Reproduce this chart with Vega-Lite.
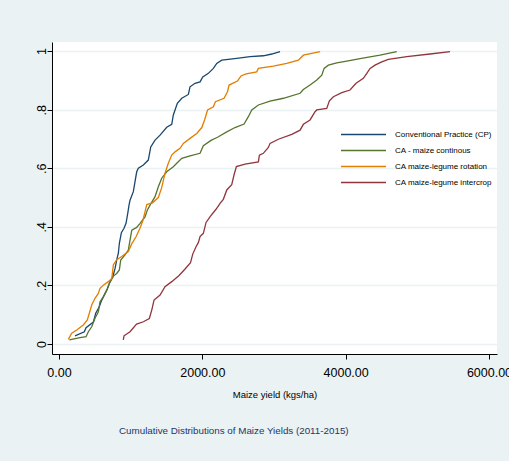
{
  "$schema": "https://vega.github.io/schema/vega-lite/v6.json",
  "width": 445,
  "height": 312,
  "autosize": {"type": "none"},
  "padding": {"left": 52, "top": 42, "right": 12, "bottom": 107},
  "background": "#eaf2f3",
  "config": {
    "view": {"fill": "white", "stroke": null},
    "font": "Liberation Sans"
  },
  "title": {
    "text": "Cumulative Distributions of Maize Yields (2011-2015)",
    "orient": "bottom",
    "anchor": "start",
    "dx": 84,
    "offset": 27,
    "fontSize": 9.8,
    "fontWeight": "normal",
    "color": "#24356a",
    "font": "Liberation Sans"
  },
  "data": {
    "values": [
      {"practice": "Conventional Practice (CP)", "yield": 223, "cum": 0.028},
      {"practice": "Conventional Practice (CP)", "yield": 353, "cum": 0.042},
      {"practice": "Conventional Practice (CP)", "yield": 377, "cum": 0.056},
      {"practice": "Conventional Practice (CP)", "yield": 479, "cum": 0.075},
      {"practice": "Conventional Practice (CP)", "yield": 512, "cum": 0.105},
      {"practice": "Conventional Practice (CP)", "yield": 558, "cum": 0.125},
      {"practice": "Conventional Practice (CP)", "yield": 596, "cum": 0.150},
      {"practice": "Conventional Practice (CP)", "yield": 674, "cum": 0.188},
      {"practice": "Conventional Practice (CP)", "yield": 702, "cum": 0.207},
      {"practice": "Conventional Practice (CP)", "yield": 749, "cum": 0.228},
      {"practice": "Conventional Practice (CP)", "yield": 782, "cum": 0.258},
      {"practice": "Conventional Practice (CP)", "yield": 805, "cum": 0.287},
      {"practice": "Conventional Practice (CP)", "yield": 828, "cum": 0.310},
      {"practice": "Conventional Practice (CP)", "yield": 842, "cum": 0.344},
      {"practice": "Conventional Practice (CP)", "yield": 870, "cum": 0.380},
      {"practice": "Conventional Practice (CP)", "yield": 907, "cum": 0.395},
      {"practice": "Conventional Practice (CP)", "yield": 935, "cum": 0.412},
      {"practice": "Conventional Practice (CP)", "yield": 959, "cum": 0.446},
      {"practice": "Conventional Practice (CP)", "yield": 977, "cum": 0.474},
      {"practice": "Conventional Practice (CP)", "yield": 991, "cum": 0.491},
      {"practice": "Conventional Practice (CP)", "yield": 1037, "cum": 0.520},
      {"practice": "Conventional Practice (CP)", "yield": 1084, "cum": 0.588},
      {"practice": "Conventional Practice (CP)", "yield": 1107, "cum": 0.600},
      {"practice": "Conventional Practice (CP)", "yield": 1177, "cum": 0.611},
      {"practice": "Conventional Practice (CP)", "yield": 1246, "cum": 0.628},
      {"practice": "Conventional Practice (CP)", "yield": 1280, "cum": 0.673},
      {"practice": "Conventional Practice (CP)", "yield": 1340, "cum": 0.696},
      {"practice": "Conventional Practice (CP)", "yield": 1410, "cum": 0.713},
      {"practice": "Conventional Practice (CP)", "yield": 1503, "cum": 0.740},
      {"practice": "Conventional Practice (CP)", "yield": 1573, "cum": 0.750},
      {"practice": "Conventional Practice (CP)", "yield": 1595, "cum": 0.782},
      {"practice": "Conventional Practice (CP)", "yield": 1651, "cum": 0.822},
      {"practice": "Conventional Practice (CP)", "yield": 1713, "cum": 0.839},
      {"practice": "Conventional Practice (CP)", "yield": 1805, "cum": 0.852},
      {"practice": "Conventional Practice (CP)", "yield": 1828, "cum": 0.878},
      {"practice": "Conventional Practice (CP)", "yield": 1898, "cum": 0.890},
      {"practice": "Conventional Practice (CP)", "yield": 1968, "cum": 0.895},
      {"practice": "Conventional Practice (CP)", "yield": 2006, "cum": 0.912},
      {"practice": "Conventional Practice (CP)", "yield": 2084, "cum": 0.924},
      {"practice": "Conventional Practice (CP)", "yield": 2154, "cum": 0.941},
      {"practice": "Conventional Practice (CP)", "yield": 2201, "cum": 0.958},
      {"practice": "Conventional Practice (CP)", "yield": 2271, "cum": 0.969},
      {"practice": "Conventional Practice (CP)", "yield": 2480, "cum": 0.975},
      {"practice": "Conventional Practice (CP)", "yield": 2666, "cum": 0.981},
      {"practice": "Conventional Practice (CP)", "yield": 2851, "cum": 0.984},
      {"practice": "Conventional Practice (CP)", "yield": 2969, "cum": 0.990},
      {"practice": "Conventional Practice (CP)", "yield": 3084, "cum": 0.998},
      {"practice": "CA - maize continous", "yield": 144, "cum": 0.014},
      {"practice": "CA - maize continous", "yield": 293, "cum": 0.022},
      {"practice": "CA - maize continous", "yield": 377, "cum": 0.025},
      {"practice": "CA - maize continous", "yield": 409, "cum": 0.042},
      {"practice": "CA - maize continous", "yield": 456, "cum": 0.059},
      {"practice": "CA - maize continous", "yield": 502, "cum": 0.088},
      {"practice": "CA - maize continous", "yield": 549, "cum": 0.110},
      {"practice": "CA - maize continous", "yield": 572, "cum": 0.144},
      {"practice": "CA - maize continous", "yield": 618, "cum": 0.161},
      {"practice": "CA - maize continous", "yield": 666, "cum": 0.184},
      {"practice": "CA - maize continous", "yield": 712, "cum": 0.213},
      {"practice": "CA - maize continous", "yield": 758, "cum": 0.232},
      {"practice": "CA - maize continous", "yield": 805, "cum": 0.241},
      {"practice": "CA - maize continous", "yield": 842, "cum": 0.253},
      {"practice": "CA - maize continous", "yield": 861, "cum": 0.287},
      {"practice": "CA - maize continous", "yield": 921, "cum": 0.304},
      {"practice": "CA - maize continous", "yield": 967, "cum": 0.321},
      {"practice": "CA - maize continous", "yield": 991, "cum": 0.355},
      {"practice": "CA - maize continous", "yield": 1015, "cum": 0.389},
      {"practice": "CA - maize continous", "yield": 1084, "cum": 0.398},
      {"practice": "CA - maize continous", "yield": 1131, "cum": 0.412},
      {"practice": "CA - maize continous", "yield": 1200, "cum": 0.434},
      {"practice": "CA - maize continous", "yield": 1232, "cum": 0.457},
      {"practice": "CA - maize continous", "yield": 1270, "cum": 0.474},
      {"practice": "CA - maize continous", "yield": 1340, "cum": 0.503},
      {"practice": "CA - maize continous", "yield": 1386, "cum": 0.537},
      {"practice": "CA - maize continous", "yield": 1433, "cum": 0.566},
      {"practice": "CA - maize continous", "yield": 1503, "cum": 0.588},
      {"practice": "CA - maize continous", "yield": 1595, "cum": 0.605},
      {"practice": "CA - maize continous", "yield": 1643, "cum": 0.617},
      {"practice": "CA - maize continous", "yield": 1713, "cum": 0.634},
      {"practice": "CA - maize continous", "yield": 1828, "cum": 0.642},
      {"practice": "CA - maize continous", "yield": 1968, "cum": 0.651},
      {"practice": "CA - maize continous", "yield": 2014, "cum": 0.677},
      {"practice": "CA - maize continous", "yield": 2121, "cum": 0.695},
      {"practice": "CA - maize continous", "yield": 2212, "cum": 0.706},
      {"practice": "CA - maize continous", "yield": 2341, "cum": 0.724},
      {"practice": "CA - maize continous", "yield": 2456, "cum": 0.739},
      {"practice": "CA - maize continous", "yield": 2582, "cum": 0.751},
      {"practice": "CA - maize continous", "yield": 2642, "cum": 0.776},
      {"practice": "CA - maize continous", "yield": 2690, "cum": 0.799},
      {"practice": "CA - maize continous", "yield": 2782, "cum": 0.816},
      {"practice": "CA - maize continous", "yield": 2945, "cum": 0.829},
      {"practice": "CA - maize continous", "yield": 3131, "cum": 0.839},
      {"practice": "CA - maize continous", "yield": 3364, "cum": 0.856},
      {"practice": "CA - maize continous", "yield": 3410, "cum": 0.869},
      {"practice": "CA - maize continous", "yield": 3503, "cum": 0.884},
      {"practice": "CA - maize continous", "yield": 3597, "cum": 0.901},
      {"practice": "CA - maize continous", "yield": 3667, "cum": 0.918},
      {"practice": "CA - maize continous", "yield": 3699, "cum": 0.941},
      {"practice": "CA - maize continous", "yield": 3759, "cum": 0.952},
      {"practice": "CA - maize continous", "yield": 3876, "cum": 0.960},
      {"practice": "CA - maize continous", "yield": 4015, "cum": 0.966},
      {"practice": "CA - maize continous", "yield": 4201, "cum": 0.974},
      {"practice": "CA - maize continous", "yield": 4480, "cum": 0.986},
      {"practice": "CA - maize continous", "yield": 4713, "cum": 0.998},
      {"practice": "CA maize-legume rotation", "yield": 130, "cum": 0.016},
      {"practice": "CA maize-legume rotation", "yield": 177, "cum": 0.037},
      {"practice": "CA maize-legume rotation", "yield": 247, "cum": 0.048},
      {"practice": "CA maize-legume rotation", "yield": 339, "cum": 0.065},
      {"practice": "CA maize-legume rotation", "yield": 395, "cum": 0.082},
      {"practice": "CA maize-legume rotation", "yield": 423, "cum": 0.105},
      {"practice": "CA maize-legume rotation", "yield": 456, "cum": 0.133},
      {"practice": "CA maize-legume rotation", "yield": 502, "cum": 0.156},
      {"practice": "CA maize-legume rotation", "yield": 549, "cum": 0.173},
      {"practice": "CA maize-legume rotation", "yield": 572, "cum": 0.190},
      {"practice": "CA maize-legume rotation", "yield": 618, "cum": 0.201},
      {"practice": "CA maize-legume rotation", "yield": 688, "cum": 0.213},
      {"practice": "CA maize-legume rotation", "yield": 736, "cum": 0.224},
      {"practice": "CA maize-legume rotation", "yield": 758, "cum": 0.270},
      {"practice": "CA maize-legume rotation", "yield": 805, "cum": 0.288},
      {"practice": "CA maize-legume rotation", "yield": 875, "cum": 0.299},
      {"practice": "CA maize-legume rotation", "yield": 967, "cum": 0.316},
      {"practice": "CA maize-legume rotation", "yield": 1012, "cum": 0.341},
      {"practice": "CA maize-legume rotation", "yield": 1075, "cum": 0.366},
      {"practice": "CA maize-legume rotation", "yield": 1131, "cum": 0.396},
      {"practice": "CA maize-legume rotation", "yield": 1168, "cum": 0.420},
      {"practice": "CA maize-legume rotation", "yield": 1200, "cum": 0.451},
      {"practice": "CA maize-legume rotation", "yield": 1224, "cum": 0.476},
      {"practice": "CA maize-legume rotation", "yield": 1305, "cum": 0.482},
      {"practice": "CA maize-legume rotation", "yield": 1386, "cum": 0.500},
      {"practice": "CA maize-legume rotation", "yield": 1433, "cum": 0.534},
      {"practice": "CA maize-legume rotation", "yield": 1479, "cum": 0.583},
      {"practice": "CA maize-legume rotation", "yield": 1525, "cum": 0.617},
      {"practice": "CA maize-legume rotation", "yield": 1573, "cum": 0.645},
      {"practice": "CA maize-legume rotation", "yield": 1619, "cum": 0.656},
      {"practice": "CA maize-legume rotation", "yield": 1689, "cum": 0.668},
      {"practice": "CA maize-legume rotation", "yield": 1735, "cum": 0.685},
      {"practice": "CA maize-legume rotation", "yield": 1828, "cum": 0.702},
      {"practice": "CA maize-legume rotation", "yield": 1922, "cum": 0.719},
      {"practice": "CA maize-legume rotation", "yield": 1992, "cum": 0.739},
      {"practice": "CA maize-legume rotation", "yield": 2031, "cum": 0.765},
      {"practice": "CA maize-legume rotation", "yield": 2073, "cum": 0.799},
      {"practice": "CA maize-legume rotation", "yield": 2154, "cum": 0.810},
      {"practice": "CA maize-legume rotation", "yield": 2182, "cum": 0.827},
      {"practice": "CA maize-legume rotation", "yield": 2303, "cum": 0.839},
      {"practice": "CA maize-legume rotation", "yield": 2352, "cum": 0.862},
      {"practice": "CA maize-legume rotation", "yield": 2373, "cum": 0.884},
      {"practice": "CA maize-legume rotation", "yield": 2491, "cum": 0.898},
      {"practice": "CA maize-legume rotation", "yield": 2540, "cum": 0.915},
      {"practice": "CA maize-legume rotation", "yield": 2610, "cum": 0.922},
      {"practice": "CA maize-legume rotation", "yield": 2759, "cum": 0.929},
      {"practice": "CA maize-legume rotation", "yield": 2782, "cum": 0.941},
      {"practice": "CA maize-legume rotation", "yield": 2991, "cum": 0.949},
      {"practice": "CA maize-legume rotation", "yield": 3178, "cum": 0.958},
      {"practice": "CA maize-legume rotation", "yield": 3340, "cum": 0.969},
      {"practice": "CA maize-legume rotation", "yield": 3410, "cum": 0.986},
      {"practice": "CA maize-legume rotation", "yield": 3643, "cum": 0.998},
      {"practice": "CA maize-legume intercrop", "yield": 897, "cum": 0.014},
      {"practice": "CA maize-legume intercrop", "yield": 907, "cum": 0.028},
      {"practice": "CA maize-legume intercrop", "yield": 991, "cum": 0.042},
      {"practice": "CA maize-legume intercrop", "yield": 1082, "cum": 0.068},
      {"practice": "CA maize-legume intercrop", "yield": 1177, "cum": 0.076},
      {"practice": "CA maize-legume intercrop", "yield": 1260, "cum": 0.087},
      {"practice": "CA maize-legume intercrop", "yield": 1294, "cum": 0.116},
      {"practice": "CA maize-legume intercrop", "yield": 1326, "cum": 0.150},
      {"practice": "CA maize-legume intercrop", "yield": 1410, "cum": 0.167},
      {"practice": "CA maize-legume intercrop", "yield": 1479, "cum": 0.196},
      {"practice": "CA maize-legume intercrop", "yield": 1573, "cum": 0.213},
      {"practice": "CA maize-legume intercrop", "yield": 1675, "cum": 0.234},
      {"practice": "CA maize-legume intercrop", "yield": 1759, "cum": 0.256},
      {"practice": "CA maize-legume intercrop", "yield": 1835, "cum": 0.278},
      {"practice": "CA maize-legume intercrop", "yield": 1866, "cum": 0.307},
      {"practice": "CA maize-legume intercrop", "yield": 1912, "cum": 0.332},
      {"practice": "CA maize-legume intercrop", "yield": 1944, "cum": 0.346},
      {"practice": "CA maize-legume intercrop", "yield": 1968, "cum": 0.367},
      {"practice": "CA maize-legume intercrop", "yield": 2014, "cum": 0.378},
      {"practice": "CA maize-legume intercrop", "yield": 2052, "cum": 0.415},
      {"practice": "CA maize-legume intercrop", "yield": 2114, "cum": 0.437},
      {"practice": "CA maize-legume intercrop", "yield": 2191, "cum": 0.460},
      {"practice": "CA maize-legume intercrop", "yield": 2247, "cum": 0.480},
      {"practice": "CA maize-legume intercrop", "yield": 2293, "cum": 0.494},
      {"practice": "CA maize-legume intercrop", "yield": 2341, "cum": 0.526},
      {"practice": "CA maize-legume intercrop", "yield": 2410, "cum": 0.544},
      {"practice": "CA maize-legume intercrop", "yield": 2442, "cum": 0.577},
      {"practice": "CA maize-legume intercrop", "yield": 2475, "cum": 0.606},
      {"practice": "CA maize-legume intercrop", "yield": 2596, "cum": 0.614},
      {"practice": "CA maize-legume intercrop", "yield": 2782, "cum": 0.622},
      {"practice": "CA maize-legume intercrop", "yield": 2796, "cum": 0.645},
      {"practice": "CA maize-legume intercrop", "yield": 2851, "cum": 0.651},
      {"practice": "CA maize-legume intercrop", "yield": 2921, "cum": 0.671},
      {"practice": "CA maize-legume intercrop", "yield": 2945, "cum": 0.685},
      {"practice": "CA maize-legume intercrop", "yield": 3061, "cum": 0.699},
      {"practice": "CA maize-legume intercrop", "yield": 3248, "cum": 0.716},
      {"practice": "CA maize-legume intercrop", "yield": 3364, "cum": 0.730},
      {"practice": "CA maize-legume intercrop", "yield": 3410, "cum": 0.750},
      {"practice": "CA maize-legume intercrop", "yield": 3503, "cum": 0.765},
      {"practice": "CA maize-legume intercrop", "yield": 3573, "cum": 0.793},
      {"practice": "CA maize-legume intercrop", "yield": 3597, "cum": 0.799},
      {"practice": "CA maize-legume intercrop", "yield": 3736, "cum": 0.804},
      {"practice": "CA maize-legume intercrop", "yield": 3773, "cum": 0.830},
      {"practice": "CA maize-legume intercrop", "yield": 3829, "cum": 0.844},
      {"practice": "CA maize-legume intercrop", "yield": 3946, "cum": 0.858},
      {"practice": "CA maize-legume intercrop", "yield": 4061, "cum": 0.867},
      {"practice": "CA maize-legume intercrop", "yield": 4145, "cum": 0.890},
      {"practice": "CA maize-legume intercrop", "yield": 4247, "cum": 0.907},
      {"practice": "CA maize-legume intercrop", "yield": 4295, "cum": 0.924},
      {"practice": "CA maize-legume intercrop", "yield": 4341, "cum": 0.941},
      {"practice": "CA maize-legume intercrop", "yield": 4410, "cum": 0.952},
      {"practice": "CA maize-legume intercrop", "yield": 4504, "cum": 0.963},
      {"practice": "CA maize-legume intercrop", "yield": 4596, "cum": 0.972},
      {"practice": "CA maize-legume intercrop", "yield": 4853, "cum": 0.981},
      {"practice": "CA maize-legume intercrop", "yield": 5178, "cum": 0.990},
      {"practice": "CA maize-legume intercrop", "yield": 5457, "cum": 0.998}
    ]
  },
  "mark": {"type": "line", "strokeWidth": 1.3},
  "encoding": {
    "x": {
      "field": "yield",
      "type": "quantitative",
      "scale": {"domain": [-98, 6112], "nice": false, "zero": false},
      "axis": {
        "values": [0, 2000, 4000, 6000],
        "format": ".2f",
        "grid": false,
        "tickSize": 5,
        "tickColor": "black",
        "domainColor": "black",
        "labelColor": "black",
        "labelFontSize": 12.5,
        "labelPadding": 7,
        "labelFlush": false,
        "labelOverlap": false,
        "title": "Maize yield (kgs/ha)",
        "titleFontSize": 9.5,
        "titleFontWeight": "normal",
        "titleColor": "black",
        "titlePadding": 11
      }
    },
    "y": {
      "field": "cum",
      "type": "quantitative",
      "scale": {"domain": [-0.034, 1.031], "nice": false, "zero": false},
      "axis": {
        "values": [0, 0.2, 0.4, 0.6, 0.8, 1],
        "labelExpr": "replace(format(datum.value, '.1~f'), '0.', '.')",
        "grid": true,
        "gridColor": "#eaf2f3",
        "gridWidth": 1.5,
        "tickSize": 5,
        "tickColor": "black",
        "domainColor": "black",
        "labelColor": "black",
        "labelFontSize": 12.5,
        "labelAngle": 270,
        "labelAlign": "center",
        "labelBaseline": "alphabetic",
        "labelPadding": 2,
        "labelFlush": false,
        "labelOverlap": false,
        "title": null
      }
    },
    "color": {
      "field": "practice",
      "type": "nominal",
      "scale": {
        "domain": ["Conventional Practice (CP)", "CA - maize continous", "CA maize-legume rotation", "CA maize-legume intercrop"],
        "range": ["#1a476f", "#55752f", "#e37e00", "#90353b"]
      },
      "legend": {
        "orient": "none",
        "legendX": 303,
        "legendY": 84,
        "title": null,
        "symbolType": "M-3,0H3",
        "symbolSize": 225,
        "symbolStrokeWidth": 1.5,
        "labelFontSize": 8,
        "labelColor": "black",
        "labelOffset": 23,
        "rowPadding": 3,
        "labelLimit": 200
      }
    },
    "order": {"field": "cum", "type": "quantitative"}
  }
}
